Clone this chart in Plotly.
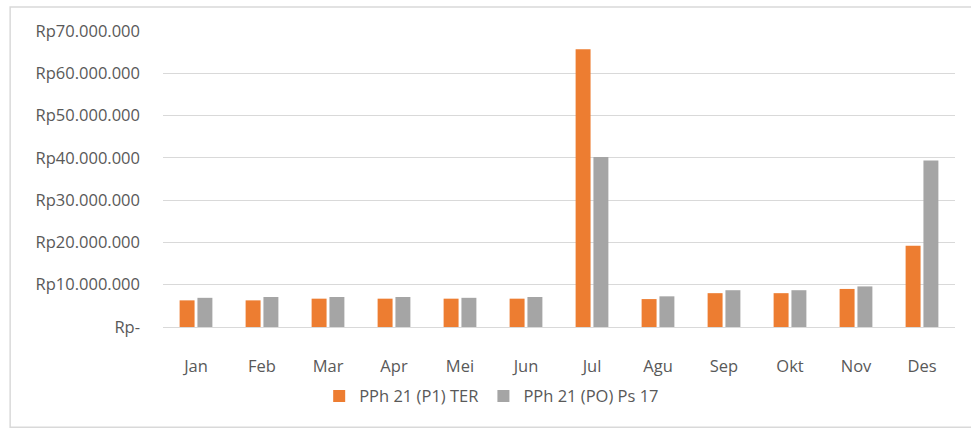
import plotly.graph_objects as go

months = ["Jan", "Feb", "Mar", "Apr", "Mei", "Jun", "Jul", "Agu", "Sep", "Okt", "Nov", "Des"]
pph_ter = [6300000, 6300000, 6700000, 6700000, 6700000, 6700000,
           65700000, 6600000, 8000000, 8000000, 9000000, 19200000]
pph_ps17 = [6900000, 7100000, 7100000, 7100000, 6900000, 7100000,
            40200000, 7250000, 8700000, 8700000, 9600000, 39400000]

ytick_vals = [0, 10000000, 20000000, 30000000, 40000000, 50000000, 60000000, 70000000]
ytick_text = ["Rp-", "Rp10.000.000", "Rp20.000.000", "Rp30.000.000", "Rp40.000.000",
              "Rp50.000.000", "Rp60.000.000", "Rp70.000.000"]

FONT = "Open Sans"
TXT = "#595959"
FS = 16.5

fig = go.Figure()
fig.add_trace(go.Bar(x=months, y=pph_ter, name="PPh 21 (P1) TER",
                     marker=dict(color="#ED7D31", line=dict(width=0))))
fig.add_trace(go.Bar(x=months, y=pph_ps17, name="PPh 21 (PO) Ps 17",
                     marker=dict(color="#A5A5A5", line=dict(width=0))))

fig.update_layout(
    width=971, height=429,
    margin=dict(l=163, r=16, t=31, b=101.5),
    paper_bgcolor="white", plot_bgcolor="white",
    barmode="group", bargap=0.46, bargroupgap=0.16,
    font=dict(family=FONT, size=FS, color=TXT),
    showlegend=True,
    legend=dict(orientation="h", x=0.415, xanchor="center", y=-0.234, yanchor="middle",
                font=dict(family=FONT, size=FS, color=TXT), itemwidth=30,
                bgcolor="rgba(0,0,0,0)"),
    shapes=[dict(type="rect", xref="paper", yref="paper",
                 x0=-0.193, x1=1.05, y0=-0.339, y1=1.081,
                 line=dict(color="#D9D9D9", width=1.5), layer="below")],
)
fig.update_xaxes(showgrid=False, showline=False, ticks="", ticklabelstandoff=27,
                 tickfont=dict(family=FONT, size=FS, color=TXT))
fig.update_yaxes(range=[0, 70000000], tickvals=ytick_vals, ticktext=ytick_text,
                 showgrid=True, gridcolor="#D9D9D9", gridwidth=1,
                 zeroline=True, zerolinecolor="#D9D9D9", zerolinewidth=1,
                 showline=False, ticks="", ticklabelstandoff=22,
                 tickfont=dict(family=FONT, size=FS, color=TXT))

fig.write_html("out.html")
